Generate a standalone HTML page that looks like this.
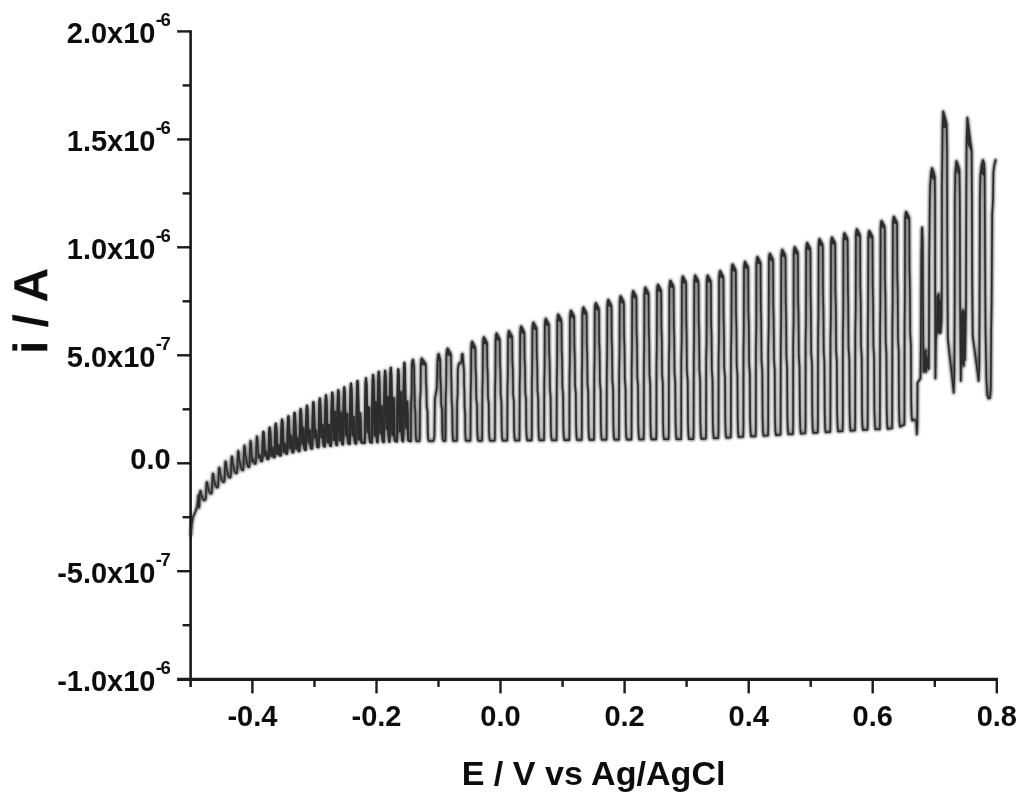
<!DOCTYPE html>
<html lang="en"><head><meta charset="utf-8"><title>Chopped-light voltammogram</title>
<style>html,body{margin:0;padding:0;background:#fff}svg{display:block}text{font-family:"Liberation Sans",Arial,sans-serif;font-weight:bold;fill:#111}</style></head><body>
<svg width="1024" height="799" viewBox="0 0 1024 799">
<rect width="1024" height="799" fill="#fff"/>
<filter id="tb" x="-1%" y="-1%" width="102%" height="102%"><feGaussianBlur stdDeviation="0.5"/></filter>
<g filter="url(#tb)">
<g stroke="#1a1a1a" stroke-width="2.9" fill="none" stroke-linecap="butt">
<path stroke-width="2.6" d="M190.6 30.2 V686.9"/>
<path stroke-width="3.2" d="M177.1 679.4 H998.0"/>
</g>
<g stroke="#1a1a1a" stroke-width="2.4" fill="none">
<path d="M177.1 31.4 H190.6"/>
<path d="M182.6 85.4 H190.6"/>
<path d="M177.1 139.4 H190.6"/>
<path d="M182.6 193.4 H190.6"/>
<path d="M177.1 247.3 H190.6"/>
<path d="M182.6 301.3 H190.6"/>
<path d="M177.1 355.3 H190.6"/>
<path d="M182.6 409.3 H190.6"/>
<path d="M177.1 463.3 H190.6"/>
<path d="M182.6 517.2 H190.6"/>
<path d="M177.1 571.2 H190.6"/>
<path d="M182.6 625.2 H190.6"/>
<path d="M252.4 679.4 V693.4"/>
<path d="M314.5 679.4 V686.9"/>
<path d="M376.5 679.4 V693.4"/>
<path d="M438.5 679.4 V686.9"/>
<path d="M500.5 679.4 V693.4"/>
<path d="M562.6 679.4 V686.9"/>
<path d="M624.6 679.4 V693.4"/>
<path d="M686.6 679.4 V686.9"/>
<path d="M748.7 679.4 V693.4"/>
<path d="M810.7 679.4 V686.9"/>
<path d="M872.7 679.4 V693.4"/>
<path d="M934.8 679.4 V686.9"/>
<path d="M996.8 679.4 V693.4"/>
</g>
<text x="155.5" y="43.3" font-size="29" text-anchor="end">2.0x10</text>
<text x="155.7" y="26.0" font-size="18.5" textLength="15" lengthAdjust="spacing">-6</text>
<text x="155.5" y="151.3" font-size="29" text-anchor="end">1.5x10</text>
<text x="155.7" y="134.0" font-size="18.5" textLength="15" lengthAdjust="spacing">-6</text>
<text x="155.5" y="259.2" font-size="29" text-anchor="end">1.0x10</text>
<text x="155.7" y="241.9" font-size="18.5" textLength="15" lengthAdjust="spacing">-6</text>
<text x="155.5" y="367.2" font-size="29" text-anchor="end">5.0x10</text>
<text x="155.7" y="349.9" font-size="18.5" textLength="15" lengthAdjust="spacing">-7</text>
<text x="170.6" y="468.9" font-size="29" text-anchor="end">0.0</text>
<text x="155.5" y="583.1" font-size="29" text-anchor="end">-5.0x10</text>
<text x="155.7" y="565.8" font-size="18.5" textLength="15" lengthAdjust="spacing">-7</text>
<text x="155.5" y="691.1" font-size="29" text-anchor="end">-1.0x10</text>
<text x="155.7" y="673.8" font-size="18.5" textLength="15" lengthAdjust="spacing">-6</text>
<text x="252.4" y="726.2" font-size="29" text-anchor="middle">-0.4</text>
<text x="376.5" y="726.2" font-size="29" text-anchor="middle">-0.2</text>
<text x="500.5" y="726.2" font-size="29" text-anchor="middle">0.0</text>
<text x="624.6" y="726.2" font-size="29" text-anchor="middle">0.2</text>
<text x="748.7" y="726.2" font-size="29" text-anchor="middle">0.4</text>
<text x="872.7" y="726.2" font-size="29" text-anchor="middle">0.6</text>
<text x="996.8" y="726.2" font-size="29" text-anchor="middle">0.8</text>
<text x="593.6" y="785" font-size="34.1" text-anchor="middle">E / V vs Ag/AgCl</text>
<text transform="translate(47.3 311) rotate(-90)" font-size="48" text-anchor="middle">i / A</text>
</g>
<filter id="soft" x="-2%" y="-2%" width="104%" height="104%"><feGaussianBlur stdDeviation="1.3"/></filter>
<path d="M191.0 535.0 L191.8 524.0 L193.0 517.0 L195.5 511.5 L197.2 506.0 L198.4 495.0 L199.1 507.6 L199.4 505.9 L199.6 497.5 L200.0 492.1 L200.4 490.7 L200.9 491.7 L201.3 494.5 L201.9 496.4 L202.7 498.4 L203.6 499.8 L204.4 500.5 L205.6 499.3 L205.9 497.6 L206.1 488.9 L206.5 483.4 L206.9 482.0 L207.4 483.2 L207.8 486.5 L208.4 488.9 L209.2 491.3 L210.1 492.9 L210.9 493.8 L211.7 493.1 L212.0 491.1 L212.2 481.3 L212.6 475.1 L213.0 473.5 L213.5 474.9 L213.9 478.9 L214.5 481.8 L215.3 484.7 L216.2 486.7 L217.0 487.7 L218.0 487.0 L218.3 485.0 L218.5 475.3 L218.9 469.1 L219.3 467.5 L219.8 469.0 L220.2 473.2 L220.8 476.1 L221.6 479.1 L222.5 481.2 L223.3 482.2 L224.3 481.7 L224.6 479.6 L224.8 469.5 L225.2 462.9 L225.6 461.3 L226.1 463.0 L226.5 467.6 L227.1 470.9 L227.9 474.3 L228.8 476.6 L229.6 477.8 L230.6 477.2 L230.9 475.1 L231.1 464.7 L231.5 458.0 L231.9 456.3 L232.4 458.0 L232.8 462.9 L233.4 466.3 L234.2 469.8 L235.1 472.2 L235.9 473.4 L237.0 473.0 L237.3 470.8 L237.5 459.7 L237.9 452.6 L238.3 450.8 L238.8 452.8 L239.2 458.3 L239.8 462.2 L240.6 466.2 L241.5 468.9 L242.3 470.3 L243.2 470.1 L243.5 467.6 L243.7 455.3 L244.1 447.4 L244.5 445.4 L245.0 447.6 L245.4 453.8 L246.0 458.2 L246.8 462.6 L247.7 465.7 L248.5 467.3 L249.3 467.0 L249.6 464.4 L249.8 451.3 L250.2 442.9 L250.6 440.8 L251.1 443.1 L251.5 449.7 L251.8 457.5 L252.3 461.7 L252.8 461.0 L253.0 460.2 L253.3 459.2 L253.7 460.7 L254.0 461.8 L254.6 463.9 L255.7 463.7 L256.0 460.9 L256.2 447.2 L256.6 438.5 L257.0 436.3 L257.5 438.8 L257.9 445.9 L258.2 452.9 L258.7 457.4 L259.2 456.7 L259.4 456.6 L259.8 455.4 L260.1 457.2 L260.4 458.9 L261.0 461.2 L262.1 461.1 L262.4 458.2 L262.6 443.5 L263.0 434.1 L263.4 431.8 L263.9 434.6 L264.3 442.2 L264.6 450.5 L265.1 455.4 L265.6 454.6 L265.8 453.1 L266.1 451.6 L266.5 453.9 L266.8 456.6 L267.4 459.0 L268.4 459.0 L268.7 455.9 L268.9 440.2 L269.3 430.1 L269.7 427.6 L270.2 430.6 L270.6 439.0 L270.9 450.3 L271.4 455.7 L271.9 454.8 L272.1 449.7 L272.4 447.7 L272.8 450.7 L273.1 454.5 L273.7 457.2 L274.5 457.3 L274.8 453.9 L275.0 437.1 L275.4 426.3 L275.8 423.6 L276.3 426.8 L276.7 435.8 L277.1 448.2 L277.5 454.0 L278.0 453.0 L278.2 447.2 L278.6 445.0 L278.9 448.2 L279.2 452.6 L279.8 455.5 L280.8 455.5 L281.1 451.9 L281.3 434.0 L281.7 422.5 L282.1 419.6 L282.6 423.0 L283.0 432.6 L283.4 445.6 L283.8 451.8 L284.3 450.8 L284.6 446.0 L284.9 444.0 L285.2 447.0 L285.5 450.5 L286.1 453.6 L287.1 453.7 L287.4 450.0 L287.6 431.3 L288.0 419.3 L288.4 416.3 L288.9 419.9 L289.3 430.1 L289.6 441.6 L290.1 448.1 L290.6 447.0 L290.8 439.3 L291.1 436.0 L291.5 440.9 L291.8 448.9 L292.4 452.2 L293.3 452.4 L293.6 448.4 L293.8 428.6 L294.2 415.9 L294.6 412.7 L295.1 416.6 L295.5 427.4 L295.9 441.7 L296.3 448.6 L296.8 447.5 L297.1 440.5 L297.4 437.8 L297.7 441.8 L298.0 447.5 L298.6 451.0 L299.4 451.2 L299.7 447.0 L299.9 425.9 L300.3 412.4 L300.7 409.0 L301.2 413.1 L301.6 424.6 L301.9 436.3 L302.4 443.7 L302.9 442.4 L303.1 432.5 L303.4 428.1 L303.8 434.7 L304.1 446.0 L304.7 449.7 L305.7 449.9 L306.0 445.5 L306.2 423.3 L306.6 409.1 L307.0 405.6 L307.5 409.9 L307.9 422.0 L308.2 434.6 L308.7 442.4 L309.2 441.1 L309.4 433.9 L309.8 430.2 L310.1 435.8 L310.4 444.5 L311.0 448.4 L312.1 448.6 L312.4 443.9 L312.6 420.6 L313.0 405.7 L313.4 402.0 L313.9 406.5 L314.3 419.3 L314.6 429.5 L315.1 437.6 L315.6 436.3 L315.8 434.2 L316.1 430.9 L316.5 435.9 L316.8 442.9 L317.4 447.0 L318.5 447.3 L318.8 442.4 L319.0 418.0 L319.4 402.3 L319.8 398.4 L320.3 403.2 L320.7 416.8 L321.1 428.5 L321.5 437.2 L322.0 435.8 L322.2 429.5 L322.6 425.2 L322.9 431.7 L323.2 441.9 L323.8 446.2 L324.7 446.6 L325.0 441.5 L325.2 415.8 L325.6 399.4 L326.0 395.3 L326.5 400.4 L326.9 414.6 L327.2 433.1 L327.7 442.2 L328.2 440.7 L328.4 429.1 L328.8 424.9 L329.1 431.2 L329.4 440.9 L330.0 445.5 L331.0 445.9 L331.3 440.6 L331.5 413.9 L331.9 396.9 L332.3 392.6 L332.8 397.9 L333.2 412.6 L333.6 430.4 L334.0 439.9 L334.5 438.3 L334.8 418.6 L335.1 411.9 L335.4 421.9 L335.7 440.0 L336.3 444.8 L337.0 445.2 L337.3 439.7 L337.5 412.3 L337.9 394.7 L338.3 390.3 L338.8 395.7 L339.2 410.9 L339.6 430.4 L340.0 440.2 L340.5 438.6 L340.8 419.0 L341.1 412.7 L341.4 422.2 L341.7 439.2 L342.3 444.1 L343.0 444.5 L343.3 438.8 L343.5 410.2 L343.9 391.9 L344.3 387.3 L344.8 393.0 L345.2 408.9 L345.6 424.9 L346.0 435.1 L346.5 433.4 L346.8 419.9 L347.1 413.9 L347.4 423.0 L347.7 438.4 L348.3 443.5 L349.7 444.0 L350.0 438.0 L350.2 407.8 L350.6 388.4 L351.0 383.6 L351.5 389.6 L351.9 406.4 L352.2 424.2 L352.7 435.1 L353.2 433.3 L353.4 422.6 L353.8 417.3 L354.1 425.2 L354.4 437.6 L355.0 443.1 L356.2 443.6 L356.5 437.3 L356.7 406.0 L357.1 385.9 L357.5 380.9 L358.0 387.1 L358.4 404.6 L358.8 428.3 L359.2 439.5 L359.7 437.6 L359.9 419.2 L360.2 413.2 L360.6 422.2 L360.9 437.0 L361.5 442.6 L364.7 443.0 L365.0 436.6 L365.2 404.2 L365.6 383.5 L366.0 378.3 L366.5 384.7 L366.9 402.8 L367.2 420.4 L367.7 432.0 L368.2 430.1 L368.4 414.4 L368.8 407.4 L369.1 418.0 L369.4 436.2 L370.0 442.0 L371.8 442.6 L372.1 435.8 L372.3 402.0 L372.7 380.3 L373.1 374.9 L373.6 381.6 L374.0 400.5 L374.4 423.2 L374.8 435.4 L375.3 433.3 L375.6 410.2 L375.9 402.2 L376.2 414.2 L376.5 435.6 L377.1 441.7 L377.5 442.3 L377.8 435.3 L378.0 400.0 L378.4 377.4 L378.8 371.8 L379.3 378.8 L379.7 398.5 L380.1 420.5 L380.5 433.2 L381.0 431.1 L381.2 413.4 L381.6 406.2 L381.9 417.0 L382.2 435.1 L382.8 441.4 L383.8 442.1 L384.1 434.9 L384.3 399.3 L384.7 376.5 L385.1 370.8 L385.6 377.9 L386.0 397.8 L386.4 415.9 L386.8 428.7 L387.3 426.6 L387.6 406.1 L387.9 397.1 L388.2 410.5 L388.5 434.7 L389.1 441.1 L389.5 441.8 L389.8 434.4 L390.0 397.4 L390.4 373.7 L390.8 367.8 L391.3 375.2 L391.7 395.8 L392.1 421.6 L392.5 434.9 L393.0 432.6 L393.2 406.6 L393.6 397.9 L393.9 411.0 L394.2 434.2 L394.8 440.9 L397.0 441.5 L397.3 434.3 L397.5 398.2 L397.9 375.1 L398.3 369.3 L398.8 376.5 L399.2 396.7 L399.6 418.4 L400.0 431.3 L400.5 429.2 L400.8 402.0 L401.1 392.2 L401.4 406.9 L401.7 434.2 L402.3 440.6 L403.1 441.4 L403.4 433.5 L403.6 394.2 L404.0 369.1 L404.4 362.8 L404.9 370.6 L405.3 392.6 L405.6 413.5 L406.1 427.6 L406.6 425.3 L406.8 409.5 L407.1 401.5 L407.5 413.5 L407.8 433.4 L408.4 440.5 L410.8 441.2 L411.0 437.2 L411.1 402.0 L411.6 392.2 L411.8 366.5 L412.3 361.3 L413.0 359.5 L413.4 361.5 L413.9 365.0 L414.2 368.5 L414.4 382.4 L414.6 388.9 L414.9 406.9 L415.4 411.8 L415.7 433.0 L416.0 439.1 L416.4 441.2 L419.5 441.1 L419.8 437.0 L420.0 401.4 L420.6 391.4 L420.8 365.3 L421.2 360.1 L421.6 358.3 L423.1 360.3 L425.6 363.8 L425.8 367.3 L426.0 381.5 L426.4 388.1 L426.7 406.3 L427.5 411.2 L427.8 432.7 L428.2 438.9 L428.8 441.0 L433.5 441.0 L434.4 436.6 L434.9 399.1 L436.7 388.7 L437.5 360.8 L438.0 355.6 L438.6 353.8 L439.2 355.8 L440.1 359.3 L440.3 362.8 L440.5 378.2 L440.9 385.2 L441.2 404.3 L442.0 409.6 L442.3 432.2 L442.7 438.7 L443.3 440.9 L445.4 440.9 L445.6 436.3 L445.7 396.5 L446.2 385.4 L446.4 355.4 L446.9 350.2 L447.6 348.4 L448.8 350.4 L450.8 353.9 L451.0 357.4 L451.2 374.3 L451.4 381.7 L451.7 402.0 L452.2 407.6 L452.5 431.6 L452.8 438.5 L453.2 440.9 L456.8 440.8 L457.0 436.9 L457.1 403.4 L457.6 394.0 L457.8 369.8 L458.6 364.6 L459.6 362.8 L461.4 362.8 L461.9 354.5 L462.6 353.8 L463.8 368.3 L464.0 371.8 L464.1 384.6 L464.4 390.9 L464.6 408.0 L465.1 412.7 L465.3 433.0 L465.6 438.8 L466.0 440.8 L470.4 440.8 L470.5 435.8 L470.7 393.1 L471.0 381.2 L471.2 348.5 L471.6 343.3 L472.1 341.5 L473.3 343.5 L475.1 347.0 L475.4 350.5 L475.6 369.3 L476.0 377.2 L476.3 399.0 L477.0 405.0 L477.3 430.8 L477.7 438.2 L478.3 440.7 L482.1 440.7 L482.2 435.5 L482.4 390.9 L482.7 378.5 L482.9 344.0 L483.3 338.8 L483.9 337.0 L485.0 339.0 L486.9 342.5 L487.1 346.0 L487.3 366.0 L487.7 374.3 L488.0 397.1 L488.7 403.3 L489.0 430.3 L489.4 438.1 L490.0 440.7 L494.8 440.6 L494.9 435.3 L495.1 389.1 L495.4 376.2 L495.6 340.3 L496.0 335.1 L496.6 333.3 L497.7 335.3 L499.6 338.8 L499.8 342.3 L500.0 363.3 L500.4 371.9 L500.7 395.5 L501.4 402.0 L501.7 429.9 L502.1 437.9 L502.7 440.6 L507.2 440.5 L507.3 435.1 L507.5 387.9 L507.8 374.7 L508.0 337.8 L508.4 332.6 L508.9 330.8 L510.1 332.8 L512.0 336.3 L512.2 339.8 L512.4 361.5 L512.8 370.3 L513.1 394.4 L513.8 401.0 L514.1 429.5 L514.5 437.7 L515.1 440.5 L519.4 440.4 L519.5 434.7 L519.7 385.6 L520.0 371.9 L520.2 333.2 L520.6 328.0 L521.1 326.2 L522.3 328.2 L524.1 331.7 L524.4 335.2 L524.6 358.2 L525.0 367.3 L525.3 392.4 L526.0 399.3 L526.3 429.0 L526.7 437.5 L527.3 440.4 L531.6 440.4 L531.8 434.5 L531.9 383.7 L532.2 369.6 L532.4 329.4 L532.8 324.2 L533.4 322.4 L534.5 324.4 L536.4 327.9 L536.6 331.4 L536.8 355.4 L537.2 364.8 L537.5 390.8 L538.2 397.8 L538.5 428.5 L538.9 437.3 L539.5 440.3 L544.0 440.3 L544.1 434.2 L544.3 381.9 L544.6 367.3 L544.8 325.6 L545.2 320.4 L545.8 318.6 L546.9 320.6 L548.8 324.1 L549.0 327.6 L549.2 352.6 L549.6 362.4 L549.9 389.1 L550.6 396.4 L550.9 428.0 L551.3 437.2 L551.9 440.2 L556.5 440.2 L556.6 433.9 L556.8 379.7 L557.1 364.6 L557.3 321.3 L557.7 316.1 L558.2 314.3 L559.4 316.3 L561.2 319.8 L561.5 323.3 L561.7 349.5 L562.1 359.6 L562.4 387.3 L563.1 394.8 L563.4 427.5 L563.8 436.9 L564.4 440.1 L569.2 440.1 L569.4 433.6 L569.5 377.9 L569.8 362.3 L570.0 317.5 L570.4 312.3 L571.0 310.5 L572.1 312.5 L574.0 316.0 L574.2 319.5 L574.4 346.8 L574.8 357.1 L575.1 385.6 L575.8 393.4 L576.1 427.0 L576.5 436.8 L577.1 440.0 L581.6 440.0 L581.8 433.3 L581.9 376.2 L582.2 360.3 L582.4 314.2 L582.8 309.0 L583.4 307.2 L584.5 309.2 L586.4 312.7 L586.6 316.2 L586.8 344.4 L587.2 355.0 L587.5 384.2 L588.2 392.1 L588.5 426.6 L588.9 436.6 L589.5 439.9 L594.0 439.9 L594.1 433.0 L594.3 374.1 L594.6 357.7 L594.8 309.9 L595.2 304.7 L595.8 302.9 L596.9 304.9 L598.8 308.4 L599.0 311.9 L599.2 341.2 L599.6 352.2 L599.9 382.3 L600.6 390.5 L600.9 426.1 L601.3 436.4 L601.9 439.8 L606.5 439.8 L606.6 432.8 L606.8 372.5 L607.1 355.7 L607.3 306.6 L607.7 301.4 L608.2 299.6 L609.4 301.6 L611.2 305.1 L611.5 308.6 L611.7 338.8 L612.1 350.0 L612.4 380.9 L613.1 389.3 L613.4 425.7 L613.8 436.2 L614.4 439.7 L618.9 439.7 L619.0 432.5 L619.2 370.7 L619.5 353.5 L619.7 303.0 L620.1 297.8 L620.6 296.0 L621.8 298.0 L623.6 301.5 L623.9 305.0 L624.1 336.2 L624.5 347.7 L624.8 379.3 L625.5 387.9 L625.8 425.2 L626.2 436.0 L626.8 439.6 L631.4 439.6 L631.5 432.1 L631.7 368.2 L632.0 350.4 L632.2 297.9 L632.6 292.7 L633.1 290.9 L634.3 292.9 L636.1 296.4 L636.4 299.9 L636.6 332.5 L637.0 344.4 L637.3 377.1 L638.0 386.0 L638.3 424.6 L638.7 435.8 L639.3 439.5 L643.6 439.5 L643.8 431.9 L643.9 366.4 L644.2 348.2 L644.4 294.3 L644.8 289.1 L645.4 287.3 L646.5 289.3 L648.4 292.8 L648.6 296.3 L648.8 329.9 L649.2 342.1 L649.5 375.5 L650.2 384.6 L650.5 424.2 L650.9 435.6 L651.5 439.4 L656.2 439.4 L656.4 431.6 L656.5 365.0 L656.8 346.4 L657.0 291.5 L657.4 286.3 L658.0 284.5 L659.1 286.5 L661.0 290.0 L661.2 293.5 L661.4 327.8 L661.8 340.2 L662.1 374.3 L662.8 383.6 L663.1 423.8 L663.5 435.4 L664.1 439.3 L668.6 439.3 L668.8 431.3 L668.9 363.1 L669.3 344.0 L669.4 287.5 L669.9 282.3 L670.4 280.5 L671.5 282.5 L673.4 286.0 L673.6 289.5 L673.8 324.9 L674.2 337.6 L674.5 372.5 L675.2 382.1 L675.6 423.3 L676.0 435.2 L676.5 439.2 L681.0 439.2 L681.2 431.0 L681.3 360.9 L681.7 341.4 L681.9 283.2 L682.3 278.0 L682.8 276.2 L683.9 278.2 L685.8 281.7 L686.1 285.2 L686.3 321.8 L686.6 334.8 L686.9 370.7 L687.7 380.5 L688.0 422.8 L688.4 435.0 L688.9 439.1 L693.4 439.1 L693.6 430.9 L693.8 360.5 L694.1 340.8 L694.3 282.3 L694.7 277.1 L695.2 275.3 L696.4 277.3 L698.2 280.8 L698.5 284.3 L698.7 321.1 L699.1 334.2 L699.4 370.2 L700.1 380.0 L700.4 422.6 L700.8 434.8 L701.4 438.9 L705.9 438.7 L706.1 430.5 L706.2 360.3 L706.6 340.7 L706.7 282.3 L707.1 277.1 L707.7 275.3 L708.8 277.3 L710.7 280.8 L710.9 284.3 L711.1 320.9 L711.5 334.0 L711.8 369.8 L712.5 379.6 L712.8 422.0 L713.3 434.2 L713.8 438.3 L718.3 438.1 L718.5 429.7 L718.6 357.7 L719.0 337.6 L719.1 277.7 L719.6 272.5 L720.1 270.7 L721.2 272.7 L723.1 276.2 L723.4 279.7 L723.6 317.5 L723.9 330.8 L724.2 367.5 L725.0 377.6 L725.3 421.0 L725.7 433.5 L726.2 437.7 L730.7 437.5 L730.9 428.8 L731.0 354.3 L731.4 333.5 L731.6 271.2 L732.0 266.0 L732.5 264.2 L733.7 266.2 L735.5 269.7 L735.8 273.2 L736.0 312.6 L736.4 326.4 L736.7 364.5 L737.4 374.8 L737.7 419.8 L738.1 432.7 L738.6 437.1 L743.2 436.8 L743.4 428.1 L743.5 352.7 L743.8 331.7 L744.0 268.6 L744.4 263.4 L745.0 261.6 L746.1 263.6 L748.0 267.1 L748.2 270.6 L748.4 310.6 L748.8 324.5 L749.1 363.0 L749.8 373.5 L750.1 419.0 L750.6 432.1 L751.1 436.4 L755.6 436.2 L755.8 427.2 L755.9 350.0 L756.3 328.5 L756.4 263.7 L756.9 258.5 L757.4 256.7 L758.5 258.7 L760.4 262.2 L760.6 265.7 L760.8 306.8 L761.2 321.2 L761.5 360.6 L762.3 371.3 L762.6 417.9 L763.0 431.3 L763.5 435.8 L768.0 435.5 L768.2 426.4 L768.3 348.2 L768.7 326.3 L768.9 260.5 L769.3 255.3 L769.8 253.5 L771.0 255.5 L772.8 259.0 L773.1 262.5 L773.3 304.3 L773.6 318.9 L774.0 358.8 L774.7 369.7 L775.0 416.9 L775.4 430.5 L775.9 435.1 L780.5 434.8 L780.6 425.5 L780.8 345.9 L781.1 323.7 L781.3 256.6 L781.7 251.4 L782.2 249.6 L783.4 251.6 L785.2 255.1 L785.5 258.6 L785.7 301.3 L786.1 316.1 L786.4 356.7 L787.1 367.8 L787.4 415.9 L787.8 429.7 L788.4 434.3 L792.9 434.1 L793.1 424.7 L793.2 344.2 L793.6 321.8 L793.7 253.9 L794.2 248.7 L794.7 246.9 L795.8 248.9 L797.7 252.4 L797.9 255.9 L798.1 299.2 L798.5 314.1 L798.8 355.2 L799.5 366.4 L799.9 414.9 L800.3 428.9 L800.8 433.6 L805.3 433.3 L805.5 423.8 L805.6 341.8 L806.0 319.0 L806.2 249.7 L806.6 244.5 L807.1 242.7 L808.2 244.7 L810.1 248.2 L810.4 251.7 L810.6 296.0 L810.9 311.2 L811.2 353.0 L812.0 364.4 L812.3 413.9 L812.7 428.1 L813.2 432.9 L817.7 432.6 L817.9 422.9 L818.1 339.6 L818.4 316.3 L818.6 245.8 L819.0 240.6 L819.5 238.8 L820.7 240.8 L822.5 244.3 L822.8 247.8 L823.0 292.9 L823.4 308.4 L823.7 350.9 L824.4 362.5 L824.7 412.8 L825.1 427.3 L825.6 432.2 L830.2 431.9 L830.4 422.1 L830.5 338.4 L830.9 315.1 L831.0 244.2 L831.4 239.0 L832.0 237.2 L833.1 239.2 L835.0 242.7 L835.2 246.2 L835.4 291.6 L835.8 307.1 L836.1 349.8 L836.8 361.5 L837.1 412.0 L837.6 426.6 L838.1 431.4 L842.6 431.1 L842.8 421.2 L842.9 336.0 L843.3 312.3 L843.4 240.0 L843.9 234.8 L844.4 233.0 L845.5 235.0 L847.4 238.5 L847.6 242.0 L847.9 288.3 L848.2 304.2 L848.5 347.6 L849.3 359.5 L849.6 410.9 L850.0 425.7 L850.5 430.7 L855.0 430.4 L855.2 420.3 L855.3 333.7 L855.7 309.6 L855.9 236.0 L856.3 230.8 L856.8 229.0 L858.0 231.0 L859.8 234.5 L860.1 238.0 L860.3 285.3 L860.7 301.3 L861.0 345.5 L861.7 357.6 L862.0 409.8 L862.4 424.9 L862.9 429.9 L867.5 429.6 L867.7 419.7 L867.8 334.1 L868.1 310.3 L868.3 237.7 L868.7 232.5 L869.3 230.7 L870.4 232.7 L872.3 236.2 L872.5 239.7 L872.7 286.3 L873.1 302.2 L873.4 345.9 L874.1 357.8 L874.4 409.5 L874.9 424.4 L875.4 429.3 L879.8 429.2 L879.9 418.8 L880.1 329.1 L880.4 304.1 L880.6 227.7 L881.0 222.5 L881.5 220.7 L882.7 222.7 L884.5 226.2 L884.8 229.7 L885.0 279.0 L885.4 295.7 L885.7 341.5 L886.4 354.0 L886.7 408.1 L887.1 423.7 L887.7 428.9 L892.1 428.2 L892.2 417.6 L892.4 326.6 L892.7 301.2 L892.9 223.6 L893.3 218.4 L893.9 216.6 L895.0 218.6 L896.9 222.1 L897.1 225.6 L897.3 275.4 L897.7 292.2 L898.0 338.5 L898.7 351.1 L899.0 405.7 L899.4 421.5 L900.0 426.7 L904.3 424.7 L904.4 414.0 L904.6 322.4 L904.9 296.9 L905.1 218.7 L905.5 213.5 L906.0 211.7 L907.2 213.7 L909.0 217.2 L909.3 220.7 L909.5 270.2 L909.9 286.9 L910.2 332.8 L910.9 345.4 L911.2 399.7 L911.6 415.4 L912.2 420.6 L913.3 419.5 L914.8 420.0 L916.2 421.0 L916.8 434.5 L917.3 425.0 L917.5 383.0 L919.0 380.5 L920.4 378.5 L920.9 340.0 L921.3 260.0 L921.8 229.0 L922.2 227.4 L922.7 240.0 L923.0 300.0 L923.4 350.0 L923.8 372.0 L924.4 352.0 L925.0 371.0 L925.6 350.0 L926.2 372.0 L926.8 356.0 L927.6 366.0 L928.8 369.0 L929.0 340.0 L929.2 260.0 L929.8 200.0 L930.2 185.0 L931.2 172.0 L932.0 168.0 L933.6 172.0 L934.8 177.0 L935.0 200.0 L935.2 300.0 L935.4 378.5 L935.9 340.0 L936.8 330.0 L937.3 296.0 L938.0 332.0 L938.6 294.0 L939.3 333.0 L940.0 300.0 L940.7 333.0 L941.6 320.0 L941.8 280.0 L941.9 190.0 L942.3 160.0 L942.6 125.0 L943.2 111.4 L944.8 117.0 L946.6 124.0 L947.0 150.0 L947.3 250.0 L947.8 338.0 L949.7 356.0 L951.7 374.0 L953.7 392.8 L954.3 375.0 L954.7 300.0 L954.9 200.0 L955.3 172.0 L956.4 161.0 L958.0 165.0 L959.4 170.0 L959.8 200.0 L960.1 300.0 L960.8 381.0 L961.4 345.0 L962.0 312.0 L962.6 364.0 L963.2 310.0 L963.8 366.0 L964.4 312.0 L965.0 360.0 L965.6 330.0 L966.0 300.0 L966.3 200.0 L966.6 140.0 L967.4 117.6 L968.6 127.0 L970.2 140.0 L971.6 150.0 L971.9 200.0 L972.2 280.0 L972.7 335.8 L974.7 351.0 L976.7 366.0 L978.6 381.0 L979.3 365.0 L979.6 300.0 L979.9 200.0 L980.4 175.0 L981.6 165.0 L983.0 160.0 L984.0 163.0 L984.6 170.0 L985.0 250.0 L985.5 330.0 L986.4 380.0 L987.2 395.0 L988.6 398.5 L990.0 398.0 L990.8 390.0 L991.2 330.0 L991.6 305.0 L992.2 215.0 L993.0 200.0 L993.4 172.0 L994.4 165.0 L995.6 160.0" fill="none" stroke="#000" stroke-opacity="0.6" stroke-width="3.4" stroke-linejoin="round" stroke-linecap="round" filter="url(#soft)"/>
<path d="M411.2 366.0L412.9 358.9L414.5 367.5ZM420.2 364.8L421.5 357.7L426.1 366.3ZM436.9 360.3L438.5 353.2L440.6 361.8ZM445.8 354.9L447.5 347.8L451.3 356.4ZM470.6 348.0L472.0 340.9L475.7 349.5ZM482.3 343.5L483.8 336.4L487.4 345.0ZM495.0 339.8L496.4 332.7L500.1 341.3ZM507.4 337.3L508.8 330.2L512.5 338.8ZM519.6 332.7L521.0 325.6L524.7 334.2ZM531.8 328.9L533.2 321.8L536.9 330.4ZM544.2 325.1L545.6 318.0L549.3 326.6ZM556.7 320.8L558.1 313.7L561.8 322.3ZM569.4 317.0L570.9 309.9L574.5 318.5ZM581.8 313.7L583.2 306.6L586.9 315.2ZM594.2 309.4L595.6 302.3L599.3 310.9ZM606.7 306.1L608.1 299.0L611.8 307.6ZM619.1 302.5L620.5 295.4L624.2 304.0ZM631.6 297.4L633.0 290.3L636.7 298.9ZM643.8 293.8L645.2 286.7L648.9 295.3ZM656.4 291.0L657.9 283.9L661.5 292.5ZM668.8 287.0L670.3 279.9L673.9 288.5ZM681.3 282.7L682.7 275.6L686.4 284.2ZM693.7 281.8L695.1 274.7L698.8 283.3ZM706.1 281.8L707.6 274.7L711.2 283.3ZM718.5 277.2L720.0 270.1L723.6 278.7ZM731.0 270.7L732.4 263.6L736.1 272.2ZM743.4 268.1L744.9 261.0L748.5 269.6ZM755.8 263.2L757.3 256.1L760.9 264.7ZM768.3 260.0L769.7 252.9L773.4 261.5ZM780.7 256.1L782.1 249.0L785.8 257.6ZM793.1 253.4L794.6 246.3L798.2 254.9ZM805.6 249.2L807.0 242.1L810.7 250.7ZM818.0 245.3L819.4 238.2L823.1 246.8ZM830.4 243.7L831.9 236.6L835.5 245.2ZM842.8 239.5L844.3 232.4L847.9 241.0ZM855.3 235.5L856.7 228.4L860.4 237.0ZM867.7 237.2L869.2 230.1L872.8 238.7ZM880.0 227.2L881.4 220.1L885.1 228.7ZM892.3 223.1L893.8 216.0L897.4 224.6ZM904.5 218.2L905.9 211.1L909.6 219.7ZM929.6 177.0L932.0 167.5L935.1 181.0ZM942.1 128.0L943.2 110.8L947.1 128.0ZM955.0 171.0L956.4 160.5L959.8 175.0ZM966.3 142.0L967.4 117.0L971.8 153.0ZM980.1 173.0L983.0 159.5L984.9 177.0Z" fill="#222" fill-opacity="0.85" stroke="none"/>
<path d="M191.0 535.0 L191.8 524.0 L193.0 517.0 L195.5 511.5 L197.2 506.0 L198.4 495.0 L199.1 507.6 L199.4 505.9 L199.6 497.5 L200.0 492.1 L200.4 490.7 L200.9 491.7 L201.3 494.5 L201.9 496.4 L202.7 498.4 L203.6 499.8 L204.4 500.5 L205.6 499.3 L205.9 497.6 L206.1 488.9 L206.5 483.4 L206.9 482.0 L207.4 483.2 L207.8 486.5 L208.4 488.9 L209.2 491.3 L210.1 492.9 L210.9 493.8 L211.7 493.1 L212.0 491.1 L212.2 481.3 L212.6 475.1 L213.0 473.5 L213.5 474.9 L213.9 478.9 L214.5 481.8 L215.3 484.7 L216.2 486.7 L217.0 487.7 L218.0 487.0 L218.3 485.0 L218.5 475.3 L218.9 469.1 L219.3 467.5 L219.8 469.0 L220.2 473.2 L220.8 476.1 L221.6 479.1 L222.5 481.2 L223.3 482.2 L224.3 481.7 L224.6 479.6 L224.8 469.5 L225.2 462.9 L225.6 461.3 L226.1 463.0 L226.5 467.6 L227.1 470.9 L227.9 474.3 L228.8 476.6 L229.6 477.8 L230.6 477.2 L230.9 475.1 L231.1 464.7 L231.5 458.0 L231.9 456.3 L232.4 458.0 L232.8 462.9 L233.4 466.3 L234.2 469.8 L235.1 472.2 L235.9 473.4 L237.0 473.0 L237.3 470.8 L237.5 459.7 L237.9 452.6 L238.3 450.8 L238.8 452.8 L239.2 458.3 L239.8 462.2 L240.6 466.2 L241.5 468.9 L242.3 470.3 L243.2 470.1 L243.5 467.6 L243.7 455.3 L244.1 447.4 L244.5 445.4 L245.0 447.6 L245.4 453.8 L246.0 458.2 L246.8 462.6 L247.7 465.7 L248.5 467.3 L249.3 467.0 L249.6 464.4 L249.8 451.3 L250.2 442.9 L250.6 440.8 L251.1 443.1 L251.5 449.7 L251.8 457.5 L252.3 461.7 L252.8 461.0 L253.0 460.2 L253.3 459.2 L253.7 460.7 L254.0 461.8 L254.6 463.9 L255.7 463.7 L256.0 460.9 L256.2 447.2 L256.6 438.5 L257.0 436.3 L257.5 438.8 L257.9 445.9 L258.2 452.9 L258.7 457.4 L259.2 456.7 L259.4 456.6 L259.8 455.4 L260.1 457.2 L260.4 458.9 L261.0 461.2 L262.1 461.1 L262.4 458.2 L262.6 443.5 L263.0 434.1 L263.4 431.8 L263.9 434.6 L264.3 442.2 L264.6 450.5 L265.1 455.4 L265.6 454.6 L265.8 453.1 L266.1 451.6 L266.5 453.9 L266.8 456.6 L267.4 459.0 L268.4 459.0 L268.7 455.9 L268.9 440.2 L269.3 430.1 L269.7 427.6 L270.2 430.6 L270.6 439.0 L270.9 450.3 L271.4 455.7 L271.9 454.8 L272.1 449.7 L272.4 447.7 L272.8 450.7 L273.1 454.5 L273.7 457.2 L274.5 457.3 L274.8 453.9 L275.0 437.1 L275.4 426.3 L275.8 423.6 L276.3 426.8 L276.7 435.8 L277.1 448.2 L277.5 454.0 L278.0 453.0 L278.2 447.2 L278.6 445.0 L278.9 448.2 L279.2 452.6 L279.8 455.5 L280.8 455.5 L281.1 451.9 L281.3 434.0 L281.7 422.5 L282.1 419.6 L282.6 423.0 L283.0 432.6 L283.4 445.6 L283.8 451.8 L284.3 450.8 L284.6 446.0 L284.9 444.0 L285.2 447.0 L285.5 450.5 L286.1 453.6 L287.1 453.7 L287.4 450.0 L287.6 431.3 L288.0 419.3 L288.4 416.3 L288.9 419.9 L289.3 430.1 L289.6 441.6 L290.1 448.1 L290.6 447.0 L290.8 439.3 L291.1 436.0 L291.5 440.9 L291.8 448.9 L292.4 452.2 L293.3 452.4 L293.6 448.4 L293.8 428.6 L294.2 415.9 L294.6 412.7 L295.1 416.6 L295.5 427.4 L295.9 441.7 L296.3 448.6 L296.8 447.5 L297.1 440.5 L297.4 437.8 L297.7 441.8 L298.0 447.5 L298.6 451.0 L299.4 451.2 L299.7 447.0 L299.9 425.9 L300.3 412.4 L300.7 409.0 L301.2 413.1 L301.6 424.6 L301.9 436.3 L302.4 443.7 L302.9 442.4 L303.1 432.5 L303.4 428.1 L303.8 434.7 L304.1 446.0 L304.7 449.7 L305.7 449.9 L306.0 445.5 L306.2 423.3 L306.6 409.1 L307.0 405.6 L307.5 409.9 L307.9 422.0 L308.2 434.6 L308.7 442.4 L309.2 441.1 L309.4 433.9 L309.8 430.2 L310.1 435.8 L310.4 444.5 L311.0 448.4 L312.1 448.6 L312.4 443.9 L312.6 420.6 L313.0 405.7 L313.4 402.0 L313.9 406.5 L314.3 419.3 L314.6 429.5 L315.1 437.6 L315.6 436.3 L315.8 434.2 L316.1 430.9 L316.5 435.9 L316.8 442.9 L317.4 447.0 L318.5 447.3 L318.8 442.4 L319.0 418.0 L319.4 402.3 L319.8 398.4 L320.3 403.2 L320.7 416.8 L321.1 428.5 L321.5 437.2 L322.0 435.8 L322.2 429.5 L322.6 425.2 L322.9 431.7 L323.2 441.9 L323.8 446.2 L324.7 446.6 L325.0 441.5 L325.2 415.8 L325.6 399.4 L326.0 395.3 L326.5 400.4 L326.9 414.6 L327.2 433.1 L327.7 442.2 L328.2 440.7 L328.4 429.1 L328.8 424.9 L329.1 431.2 L329.4 440.9 L330.0 445.5 L331.0 445.9 L331.3 440.6 L331.5 413.9 L331.9 396.9 L332.3 392.6 L332.8 397.9 L333.2 412.6 L333.6 430.4 L334.0 439.9 L334.5 438.3 L334.8 418.6 L335.1 411.9 L335.4 421.9 L335.7 440.0 L336.3 444.8 L337.0 445.2 L337.3 439.7 L337.5 412.3 L337.9 394.7 L338.3 390.3 L338.8 395.7 L339.2 410.9 L339.6 430.4 L340.0 440.2 L340.5 438.6 L340.8 419.0 L341.1 412.7 L341.4 422.2 L341.7 439.2 L342.3 444.1 L343.0 444.5 L343.3 438.8 L343.5 410.2 L343.9 391.9 L344.3 387.3 L344.8 393.0 L345.2 408.9 L345.6 424.9 L346.0 435.1 L346.5 433.4 L346.8 419.9 L347.1 413.9 L347.4 423.0 L347.7 438.4 L348.3 443.5 L349.7 444.0 L350.0 438.0 L350.2 407.8 L350.6 388.4 L351.0 383.6 L351.5 389.6 L351.9 406.4 L352.2 424.2 L352.7 435.1 L353.2 433.3 L353.4 422.6 L353.8 417.3 L354.1 425.2 L354.4 437.6 L355.0 443.1 L356.2 443.6 L356.5 437.3 L356.7 406.0 L357.1 385.9 L357.5 380.9 L358.0 387.1 L358.4 404.6 L358.8 428.3 L359.2 439.5 L359.7 437.6 L359.9 419.2 L360.2 413.2 L360.6 422.2 L360.9 437.0 L361.5 442.6 L364.7 443.0 L365.0 436.6 L365.2 404.2 L365.6 383.5 L366.0 378.3 L366.5 384.7 L366.9 402.8 L367.2 420.4 L367.7 432.0 L368.2 430.1 L368.4 414.4 L368.8 407.4 L369.1 418.0 L369.4 436.2 L370.0 442.0 L371.8 442.6 L372.1 435.8 L372.3 402.0 L372.7 380.3 L373.1 374.9 L373.6 381.6 L374.0 400.5 L374.4 423.2 L374.8 435.4 L375.3 433.3 L375.6 410.2 L375.9 402.2 L376.2 414.2 L376.5 435.6 L377.1 441.7 L377.5 442.3 L377.8 435.3 L378.0 400.0 L378.4 377.4 L378.8 371.8 L379.3 378.8 L379.7 398.5 L380.1 420.5 L380.5 433.2 L381.0 431.1 L381.2 413.4 L381.6 406.2 L381.9 417.0 L382.2 435.1 L382.8 441.4 L383.8 442.1 L384.1 434.9 L384.3 399.3 L384.7 376.5 L385.1 370.8 L385.6 377.9 L386.0 397.8 L386.4 415.9 L386.8 428.7 L387.3 426.6 L387.6 406.1 L387.9 397.1 L388.2 410.5 L388.5 434.7 L389.1 441.1 L389.5 441.8 L389.8 434.4 L390.0 397.4 L390.4 373.7 L390.8 367.8 L391.3 375.2 L391.7 395.8 L392.1 421.6 L392.5 434.9 L393.0 432.6 L393.2 406.6 L393.6 397.9 L393.9 411.0 L394.2 434.2 L394.8 440.9 L397.0 441.5 L397.3 434.3 L397.5 398.2 L397.9 375.1 L398.3 369.3 L398.8 376.5 L399.2 396.7 L399.6 418.4 L400.0 431.3 L400.5 429.2 L400.8 402.0 L401.1 392.2 L401.4 406.9 L401.7 434.2 L402.3 440.6 L403.1 441.4 L403.4 433.5 L403.6 394.2 L404.0 369.1 L404.4 362.8 L404.9 370.6 L405.3 392.6 L405.6 413.5 L406.1 427.6 L406.6 425.3 L406.8 409.5 L407.1 401.5 L407.5 413.5 L407.8 433.4 L408.4 440.5 L410.8 441.2 L411.0 437.2 L411.1 402.0 L411.6 392.2 L411.8 366.5 L412.3 361.3 L413.0 359.5 L413.4 361.5 L413.9 365.0 L414.2 368.5 L414.4 382.4 L414.6 388.9 L414.9 406.9 L415.4 411.8 L415.7 433.0 L416.0 439.1 L416.4 441.2 L419.5 441.1 L419.8 437.0 L420.0 401.4 L420.6 391.4 L420.8 365.3 L421.2 360.1 L421.6 358.3 L423.1 360.3 L425.6 363.8 L425.8 367.3 L426.0 381.5 L426.4 388.1 L426.7 406.3 L427.5 411.2 L427.8 432.7 L428.2 438.9 L428.8 441.0 L433.5 441.0 L434.4 436.6 L434.9 399.1 L436.7 388.7 L437.5 360.8 L438.0 355.6 L438.6 353.8 L439.2 355.8 L440.1 359.3 L440.3 362.8 L440.5 378.2 L440.9 385.2 L441.2 404.3 L442.0 409.6 L442.3 432.2 L442.7 438.7 L443.3 440.9 L445.4 440.9 L445.6 436.3 L445.7 396.5 L446.2 385.4 L446.4 355.4 L446.9 350.2 L447.6 348.4 L448.8 350.4 L450.8 353.9 L451.0 357.4 L451.2 374.3 L451.4 381.7 L451.7 402.0 L452.2 407.6 L452.5 431.6 L452.8 438.5 L453.2 440.9 L456.8 440.8 L457.0 436.9 L457.1 403.4 L457.6 394.0 L457.8 369.8 L458.6 364.6 L459.6 362.8 L461.4 362.8 L461.9 354.5 L462.6 353.8 L463.8 368.3 L464.0 371.8 L464.1 384.6 L464.4 390.9 L464.6 408.0 L465.1 412.7 L465.3 433.0 L465.6 438.8 L466.0 440.8 L470.4 440.8 L470.5 435.8 L470.7 393.1 L471.0 381.2 L471.2 348.5 L471.6 343.3 L472.1 341.5 L473.3 343.5 L475.1 347.0 L475.4 350.5 L475.6 369.3 L476.0 377.2 L476.3 399.0 L477.0 405.0 L477.3 430.8 L477.7 438.2 L478.3 440.7 L482.1 440.7 L482.2 435.5 L482.4 390.9 L482.7 378.5 L482.9 344.0 L483.3 338.8 L483.9 337.0 L485.0 339.0 L486.9 342.5 L487.1 346.0 L487.3 366.0 L487.7 374.3 L488.0 397.1 L488.7 403.3 L489.0 430.3 L489.4 438.1 L490.0 440.7 L494.8 440.6 L494.9 435.3 L495.1 389.1 L495.4 376.2 L495.6 340.3 L496.0 335.1 L496.6 333.3 L497.7 335.3 L499.6 338.8 L499.8 342.3 L500.0 363.3 L500.4 371.9 L500.7 395.5 L501.4 402.0 L501.7 429.9 L502.1 437.9 L502.7 440.6 L507.2 440.5 L507.3 435.1 L507.5 387.9 L507.8 374.7 L508.0 337.8 L508.4 332.6 L508.9 330.8 L510.1 332.8 L512.0 336.3 L512.2 339.8 L512.4 361.5 L512.8 370.3 L513.1 394.4 L513.8 401.0 L514.1 429.5 L514.5 437.7 L515.1 440.5 L519.4 440.4 L519.5 434.7 L519.7 385.6 L520.0 371.9 L520.2 333.2 L520.6 328.0 L521.1 326.2 L522.3 328.2 L524.1 331.7 L524.4 335.2 L524.6 358.2 L525.0 367.3 L525.3 392.4 L526.0 399.3 L526.3 429.0 L526.7 437.5 L527.3 440.4 L531.6 440.4 L531.8 434.5 L531.9 383.7 L532.2 369.6 L532.4 329.4 L532.8 324.2 L533.4 322.4 L534.5 324.4 L536.4 327.9 L536.6 331.4 L536.8 355.4 L537.2 364.8 L537.5 390.8 L538.2 397.8 L538.5 428.5 L538.9 437.3 L539.5 440.3 L544.0 440.3 L544.1 434.2 L544.3 381.9 L544.6 367.3 L544.8 325.6 L545.2 320.4 L545.8 318.6 L546.9 320.6 L548.8 324.1 L549.0 327.6 L549.2 352.6 L549.6 362.4 L549.9 389.1 L550.6 396.4 L550.9 428.0 L551.3 437.2 L551.9 440.2 L556.5 440.2 L556.6 433.9 L556.8 379.7 L557.1 364.6 L557.3 321.3 L557.7 316.1 L558.2 314.3 L559.4 316.3 L561.2 319.8 L561.5 323.3 L561.7 349.5 L562.1 359.6 L562.4 387.3 L563.1 394.8 L563.4 427.5 L563.8 436.9 L564.4 440.1 L569.2 440.1 L569.4 433.6 L569.5 377.9 L569.8 362.3 L570.0 317.5 L570.4 312.3 L571.0 310.5 L572.1 312.5 L574.0 316.0 L574.2 319.5 L574.4 346.8 L574.8 357.1 L575.1 385.6 L575.8 393.4 L576.1 427.0 L576.5 436.8 L577.1 440.0 L581.6 440.0 L581.8 433.3 L581.9 376.2 L582.2 360.3 L582.4 314.2 L582.8 309.0 L583.4 307.2 L584.5 309.2 L586.4 312.7 L586.6 316.2 L586.8 344.4 L587.2 355.0 L587.5 384.2 L588.2 392.1 L588.5 426.6 L588.9 436.6 L589.5 439.9 L594.0 439.9 L594.1 433.0 L594.3 374.1 L594.6 357.7 L594.8 309.9 L595.2 304.7 L595.8 302.9 L596.9 304.9 L598.8 308.4 L599.0 311.9 L599.2 341.2 L599.6 352.2 L599.9 382.3 L600.6 390.5 L600.9 426.1 L601.3 436.4 L601.9 439.8 L606.5 439.8 L606.6 432.8 L606.8 372.5 L607.1 355.7 L607.3 306.6 L607.7 301.4 L608.2 299.6 L609.4 301.6 L611.2 305.1 L611.5 308.6 L611.7 338.8 L612.1 350.0 L612.4 380.9 L613.1 389.3 L613.4 425.7 L613.8 436.2 L614.4 439.7 L618.9 439.7 L619.0 432.5 L619.2 370.7 L619.5 353.5 L619.7 303.0 L620.1 297.8 L620.6 296.0 L621.8 298.0 L623.6 301.5 L623.9 305.0 L624.1 336.2 L624.5 347.7 L624.8 379.3 L625.5 387.9 L625.8 425.2 L626.2 436.0 L626.8 439.6 L631.4 439.6 L631.5 432.1 L631.7 368.2 L632.0 350.4 L632.2 297.9 L632.6 292.7 L633.1 290.9 L634.3 292.9 L636.1 296.4 L636.4 299.9 L636.6 332.5 L637.0 344.4 L637.3 377.1 L638.0 386.0 L638.3 424.6 L638.7 435.8 L639.3 439.5 L643.6 439.5 L643.8 431.9 L643.9 366.4 L644.2 348.2 L644.4 294.3 L644.8 289.1 L645.4 287.3 L646.5 289.3 L648.4 292.8 L648.6 296.3 L648.8 329.9 L649.2 342.1 L649.5 375.5 L650.2 384.6 L650.5 424.2 L650.9 435.6 L651.5 439.4 L656.2 439.4 L656.4 431.6 L656.5 365.0 L656.8 346.4 L657.0 291.5 L657.4 286.3 L658.0 284.5 L659.1 286.5 L661.0 290.0 L661.2 293.5 L661.4 327.8 L661.8 340.2 L662.1 374.3 L662.8 383.6 L663.1 423.8 L663.5 435.4 L664.1 439.3 L668.6 439.3 L668.8 431.3 L668.9 363.1 L669.3 344.0 L669.4 287.5 L669.9 282.3 L670.4 280.5 L671.5 282.5 L673.4 286.0 L673.6 289.5 L673.8 324.9 L674.2 337.6 L674.5 372.5 L675.2 382.1 L675.6 423.3 L676.0 435.2 L676.5 439.2 L681.0 439.2 L681.2 431.0 L681.3 360.9 L681.7 341.4 L681.9 283.2 L682.3 278.0 L682.8 276.2 L683.9 278.2 L685.8 281.7 L686.1 285.2 L686.3 321.8 L686.6 334.8 L686.9 370.7 L687.7 380.5 L688.0 422.8 L688.4 435.0 L688.9 439.1 L693.4 439.1 L693.6 430.9 L693.8 360.5 L694.1 340.8 L694.3 282.3 L694.7 277.1 L695.2 275.3 L696.4 277.3 L698.2 280.8 L698.5 284.3 L698.7 321.1 L699.1 334.2 L699.4 370.2 L700.1 380.0 L700.4 422.6 L700.8 434.8 L701.4 438.9 L705.9 438.7 L706.1 430.5 L706.2 360.3 L706.6 340.7 L706.7 282.3 L707.1 277.1 L707.7 275.3 L708.8 277.3 L710.7 280.8 L710.9 284.3 L711.1 320.9 L711.5 334.0 L711.8 369.8 L712.5 379.6 L712.8 422.0 L713.3 434.2 L713.8 438.3 L718.3 438.1 L718.5 429.7 L718.6 357.7 L719.0 337.6 L719.1 277.7 L719.6 272.5 L720.1 270.7 L721.2 272.7 L723.1 276.2 L723.4 279.7 L723.6 317.5 L723.9 330.8 L724.2 367.5 L725.0 377.6 L725.3 421.0 L725.7 433.5 L726.2 437.7 L730.7 437.5 L730.9 428.8 L731.0 354.3 L731.4 333.5 L731.6 271.2 L732.0 266.0 L732.5 264.2 L733.7 266.2 L735.5 269.7 L735.8 273.2 L736.0 312.6 L736.4 326.4 L736.7 364.5 L737.4 374.8 L737.7 419.8 L738.1 432.7 L738.6 437.1 L743.2 436.8 L743.4 428.1 L743.5 352.7 L743.8 331.7 L744.0 268.6 L744.4 263.4 L745.0 261.6 L746.1 263.6 L748.0 267.1 L748.2 270.6 L748.4 310.6 L748.8 324.5 L749.1 363.0 L749.8 373.5 L750.1 419.0 L750.6 432.1 L751.1 436.4 L755.6 436.2 L755.8 427.2 L755.9 350.0 L756.3 328.5 L756.4 263.7 L756.9 258.5 L757.4 256.7 L758.5 258.7 L760.4 262.2 L760.6 265.7 L760.8 306.8 L761.2 321.2 L761.5 360.6 L762.3 371.3 L762.6 417.9 L763.0 431.3 L763.5 435.8 L768.0 435.5 L768.2 426.4 L768.3 348.2 L768.7 326.3 L768.9 260.5 L769.3 255.3 L769.8 253.5 L771.0 255.5 L772.8 259.0 L773.1 262.5 L773.3 304.3 L773.6 318.9 L774.0 358.8 L774.7 369.7 L775.0 416.9 L775.4 430.5 L775.9 435.1 L780.5 434.8 L780.6 425.5 L780.8 345.9 L781.1 323.7 L781.3 256.6 L781.7 251.4 L782.2 249.6 L783.4 251.6 L785.2 255.1 L785.5 258.6 L785.7 301.3 L786.1 316.1 L786.4 356.7 L787.1 367.8 L787.4 415.9 L787.8 429.7 L788.4 434.3 L792.9 434.1 L793.1 424.7 L793.2 344.2 L793.6 321.8 L793.7 253.9 L794.2 248.7 L794.7 246.9 L795.8 248.9 L797.7 252.4 L797.9 255.9 L798.1 299.2 L798.5 314.1 L798.8 355.2 L799.5 366.4 L799.9 414.9 L800.3 428.9 L800.8 433.6 L805.3 433.3 L805.5 423.8 L805.6 341.8 L806.0 319.0 L806.2 249.7 L806.6 244.5 L807.1 242.7 L808.2 244.7 L810.1 248.2 L810.4 251.7 L810.6 296.0 L810.9 311.2 L811.2 353.0 L812.0 364.4 L812.3 413.9 L812.7 428.1 L813.2 432.9 L817.7 432.6 L817.9 422.9 L818.1 339.6 L818.4 316.3 L818.6 245.8 L819.0 240.6 L819.5 238.8 L820.7 240.8 L822.5 244.3 L822.8 247.8 L823.0 292.9 L823.4 308.4 L823.7 350.9 L824.4 362.5 L824.7 412.8 L825.1 427.3 L825.6 432.2 L830.2 431.9 L830.4 422.1 L830.5 338.4 L830.9 315.1 L831.0 244.2 L831.4 239.0 L832.0 237.2 L833.1 239.2 L835.0 242.7 L835.2 246.2 L835.4 291.6 L835.8 307.1 L836.1 349.8 L836.8 361.5 L837.1 412.0 L837.6 426.6 L838.1 431.4 L842.6 431.1 L842.8 421.2 L842.9 336.0 L843.3 312.3 L843.4 240.0 L843.9 234.8 L844.4 233.0 L845.5 235.0 L847.4 238.5 L847.6 242.0 L847.9 288.3 L848.2 304.2 L848.5 347.6 L849.3 359.5 L849.6 410.9 L850.0 425.7 L850.5 430.7 L855.0 430.4 L855.2 420.3 L855.3 333.7 L855.7 309.6 L855.9 236.0 L856.3 230.8 L856.8 229.0 L858.0 231.0 L859.8 234.5 L860.1 238.0 L860.3 285.3 L860.7 301.3 L861.0 345.5 L861.7 357.6 L862.0 409.8 L862.4 424.9 L862.9 429.9 L867.5 429.6 L867.7 419.7 L867.8 334.1 L868.1 310.3 L868.3 237.7 L868.7 232.5 L869.3 230.7 L870.4 232.7 L872.3 236.2 L872.5 239.7 L872.7 286.3 L873.1 302.2 L873.4 345.9 L874.1 357.8 L874.4 409.5 L874.9 424.4 L875.4 429.3 L879.8 429.2 L879.9 418.8 L880.1 329.1 L880.4 304.1 L880.6 227.7 L881.0 222.5 L881.5 220.7 L882.7 222.7 L884.5 226.2 L884.8 229.7 L885.0 279.0 L885.4 295.7 L885.7 341.5 L886.4 354.0 L886.7 408.1 L887.1 423.7 L887.7 428.9 L892.1 428.2 L892.2 417.6 L892.4 326.6 L892.7 301.2 L892.9 223.6 L893.3 218.4 L893.9 216.6 L895.0 218.6 L896.9 222.1 L897.1 225.6 L897.3 275.4 L897.7 292.2 L898.0 338.5 L898.7 351.1 L899.0 405.7 L899.4 421.5 L900.0 426.7 L904.3 424.7 L904.4 414.0 L904.6 322.4 L904.9 296.9 L905.1 218.7 L905.5 213.5 L906.0 211.7 L907.2 213.7 L909.0 217.2 L909.3 220.7 L909.5 270.2 L909.9 286.9 L910.2 332.8 L910.9 345.4 L911.2 399.7 L911.6 415.4 L912.2 420.6 L913.3 419.5 L914.8 420.0 L916.2 421.0 L916.8 434.5 L917.3 425.0 L917.5 383.0 L919.0 380.5 L920.4 378.5 L920.9 340.0 L921.3 260.0 L921.8 229.0 L922.2 227.4 L922.7 240.0 L923.0 300.0 L923.4 350.0 L923.8 372.0 L924.4 352.0 L925.0 371.0 L925.6 350.0 L926.2 372.0 L926.8 356.0 L927.6 366.0 L928.8 369.0 L929.0 340.0 L929.2 260.0 L929.8 200.0 L930.2 185.0 L931.2 172.0 L932.0 168.0 L933.6 172.0 L934.8 177.0 L935.0 200.0 L935.2 300.0 L935.4 378.5 L935.9 340.0 L936.8 330.0 L937.3 296.0 L938.0 332.0 L938.6 294.0 L939.3 333.0 L940.0 300.0 L940.7 333.0 L941.6 320.0 L941.8 280.0 L941.9 190.0 L942.3 160.0 L942.6 125.0 L943.2 111.4 L944.8 117.0 L946.6 124.0 L947.0 150.0 L947.3 250.0 L947.8 338.0 L949.7 356.0 L951.7 374.0 L953.7 392.8 L954.3 375.0 L954.7 300.0 L954.9 200.0 L955.3 172.0 L956.4 161.0 L958.0 165.0 L959.4 170.0 L959.8 200.0 L960.1 300.0 L960.8 381.0 L961.4 345.0 L962.0 312.0 L962.6 364.0 L963.2 310.0 L963.8 366.0 L964.4 312.0 L965.0 360.0 L965.6 330.0 L966.0 300.0 L966.3 200.0 L966.6 140.0 L967.4 117.6 L968.6 127.0 L970.2 140.0 L971.6 150.0 L971.9 200.0 L972.2 280.0 L972.7 335.8 L974.7 351.0 L976.7 366.0 L978.6 381.0 L979.3 365.0 L979.6 300.0 L979.9 200.0 L980.4 175.0 L981.6 165.0 L983.0 160.0 L984.0 163.0 L984.6 170.0 L985.0 250.0 L985.5 330.0 L986.4 380.0 L987.2 395.0 L988.6 398.5 L990.0 398.0 L990.8 390.0 L991.2 330.0 L991.6 305.0 L992.2 215.0 L993.0 200.0 L993.4 172.0 L994.4 165.0 L995.6 160.0" fill="none" stroke="#2c2c2c" stroke-width="1.6" stroke-linejoin="round" stroke-linecap="round"/>
<path d="M262.1 461.1 L262.4 458.2 L262.6 443.5 L263.0 434.1 L263.4 431.8 L263.9 434.6 L264.3 442.2 L264.6 450.5 L265.1 455.4 L265.6 454.6 L265.8 453.1 L266.1 451.6 L266.5 453.9 L266.8 456.6 L267.4 459.0 L268.4 459.0 L268.7 455.9 L268.9 440.2 L269.3 430.1 L269.7 427.6 L270.2 430.6 L270.6 439.0 L270.9 450.3 L271.4 455.7 L271.9 454.8 L272.1 449.7 L272.4 447.7 L272.8 450.7 L273.1 454.5 L273.7 457.2 L274.5 457.3 L274.8 453.9 L275.0 437.1 L275.4 426.3 L275.8 423.6 L276.3 426.8 L276.7 435.8 L277.1 448.2 L277.5 454.0 L278.0 453.0 L278.2 447.2 L278.6 445.0 L278.9 448.2 L279.2 452.6 L279.8 455.5 L280.8 455.5 L281.1 451.9 L281.3 434.0 L281.7 422.5 L282.1 419.6 L282.6 423.0 L283.0 432.6 L283.4 445.6 L283.8 451.8 L284.3 450.8 L284.6 446.0 L284.9 444.0 L285.2 447.0 L285.5 450.5 L286.1 453.6 L287.1 453.7 L287.4 450.0 L287.6 431.3 L288.0 419.3 L288.4 416.3 L288.9 419.9 L289.3 430.1 L289.6 441.6 L290.1 448.1 L290.6 447.0 L290.8 439.3 L291.1 436.0 L291.5 440.9 L291.8 448.9 L292.4 452.2 L293.3 452.4 L293.6 448.4 L293.8 428.6 L294.2 415.9 L294.6 412.7 L295.1 416.6 L295.5 427.4 L295.9 441.7 L296.3 448.6 L296.8 447.5 L297.1 440.5 L297.4 437.8 L297.7 441.8 L298.0 447.5 L298.6 451.0 L299.4 451.2 L299.7 447.0 L299.9 425.9 L300.3 412.4 L300.7 409.0 L301.2 413.1 L301.6 424.6 L301.9 436.3 L302.4 443.7 L302.9 442.4 L303.1 432.5 L303.4 428.1 L303.8 434.7 L304.1 446.0 L304.7 449.7 L305.7 449.9 L306.0 445.5 L306.2 423.3 L306.6 409.1 L307.0 405.6 L307.5 409.9 L307.9 422.0 L308.2 434.6 L308.7 442.4 L309.2 441.1 L309.4 433.9 L309.8 430.2 L310.1 435.8 L310.4 444.5 L311.0 448.4 L312.1 448.6 L312.4 443.9 L312.6 420.6 L313.0 405.7 L313.4 402.0 L313.9 406.5 L314.3 419.3 L314.6 429.5 L315.1 437.6 L315.6 436.3 L315.8 434.2 L316.1 430.9 L316.5 435.9 L316.8 442.9 L317.4 447.0 L318.5 447.3 L318.8 442.4 L319.0 418.0 L319.4 402.3 L319.8 398.4 L320.3 403.2 L320.7 416.8 L321.1 428.5 L321.5 437.2 L322.0 435.8 L322.2 429.5 L322.6 425.2 L322.9 431.7 L323.2 441.9 L323.8 446.2 L324.7 446.6 L325.0 441.5 L325.2 415.8 L325.6 399.4 L326.0 395.3 L326.5 400.4 L326.9 414.6 L327.2 433.1 L327.7 442.2 L328.2 440.7 L328.4 429.1 L328.8 424.9 L329.1 431.2 L329.4 440.9 L330.0 445.5 L331.0 445.9 L331.3 440.6 L331.5 413.9 L331.9 396.9 L332.3 392.6 L332.8 397.9 L333.2 412.6 L333.6 430.4 L334.0 439.9 L334.5 438.3 L334.8 418.6 L335.1 411.9 L335.4 421.9 L335.7 440.0 L336.3 444.8 L337.0 445.2 L337.3 439.7 L337.5 412.3 L337.9 394.7 L338.3 390.3 L338.8 395.7 L339.2 410.9 L339.6 430.4 L340.0 440.2 L340.5 438.6 L340.8 419.0 L341.1 412.7 L341.4 422.2 L341.7 439.2 L342.3 444.1 L343.0 444.5 L343.3 438.8 L343.5 410.2 L343.9 391.9 L344.3 387.3 L344.8 393.0 L345.2 408.9 L345.6 424.9 L346.0 435.1 L346.5 433.4 L346.8 419.9 L347.1 413.9 L347.4 423.0 L347.7 438.4 L348.3 443.5 L349.7 444.0 L350.0 438.0 L350.2 407.8 L350.6 388.4 L351.0 383.6 L351.5 389.6 L351.9 406.4 L352.2 424.2 L352.7 435.1 L353.2 433.3 L353.4 422.6 L353.8 417.3 L354.1 425.2 L354.4 437.6 L355.0 443.1 L356.2 443.6 L356.5 437.3 L356.7 406.0 L357.1 385.9 L357.5 380.9 L358.0 387.1 L358.4 404.6 L358.8 428.3 L359.2 439.5 L359.7 437.6 L359.9 419.2 L360.2 413.2 L360.6 422.2 L360.9 437.0 L361.5 442.6 L364.7 443.0 L365.0 436.6 L365.2 404.2 L365.6 383.5 L366.0 378.3 L366.5 384.7 L366.9 402.8 L367.2 420.4 L367.7 432.0 L368.2 430.1 L368.4 414.4 L368.8 407.4 L369.1 418.0 L369.4 436.2 L370.0 442.0 L371.8 442.6 L372.1 435.8 L372.3 402.0 L372.7 380.3 L373.1 374.9 L373.6 381.6 L374.0 400.5 L374.4 423.2 L374.8 435.4 L375.3 433.3 L375.6 410.2 L375.9 402.2 L376.2 414.2 L376.5 435.6 L377.1 441.7 L377.5 442.3 L377.8 435.3 L378.0 400.0 L378.4 377.4 L378.8 371.8 L379.3 378.8 L379.7 398.5 L380.1 420.5 L380.5 433.2 L381.0 431.1 L381.2 413.4 L381.6 406.2 L381.9 417.0 L382.2 435.1 L382.8 441.4 L383.8 442.1 L384.1 434.9 L384.3 399.3 L384.7 376.5 L385.1 370.8 L385.6 377.9 L386.0 397.8 L386.4 415.9 L386.8 428.7 L387.3 426.6 L387.6 406.1 L387.9 397.1 L388.2 410.5 L388.5 434.7 L389.1 441.1 L389.5 441.8 L389.8 434.4 L390.0 397.4 L390.4 373.7 L390.8 367.8 L391.3 375.2 L391.7 395.8 L392.1 421.6 L392.5 434.9 L393.0 432.6 L393.2 406.6 L393.6 397.9 L393.9 411.0 L394.2 434.2 L394.8 440.9 L397.0 441.5 L397.3 434.3 L397.5 398.2 L397.9 375.1 L398.3 369.3 L398.8 376.5 L399.2 396.7 L399.6 418.4 L400.0 431.3 L400.5 429.2 L400.8 402.0 L401.1 392.2 L401.4 406.9 L401.7 434.2 L402.3 440.6 L403.1 441.4 L403.4 433.5 L403.6 394.2 L404.0 369.1 L404.4 362.8 L404.9 370.6 L405.3 392.6 L405.6 413.5 L406.1 427.6 L406.6 425.3 L406.8 409.5 L407.1 401.5 L407.5 413.5 L407.8 433.4 L408.4 440.5 L410.8 441.2" fill="none" stroke="#2c2c2c" stroke-width="2.0" stroke-linejoin="round" stroke-linecap="round"/>
</svg></body></html>
